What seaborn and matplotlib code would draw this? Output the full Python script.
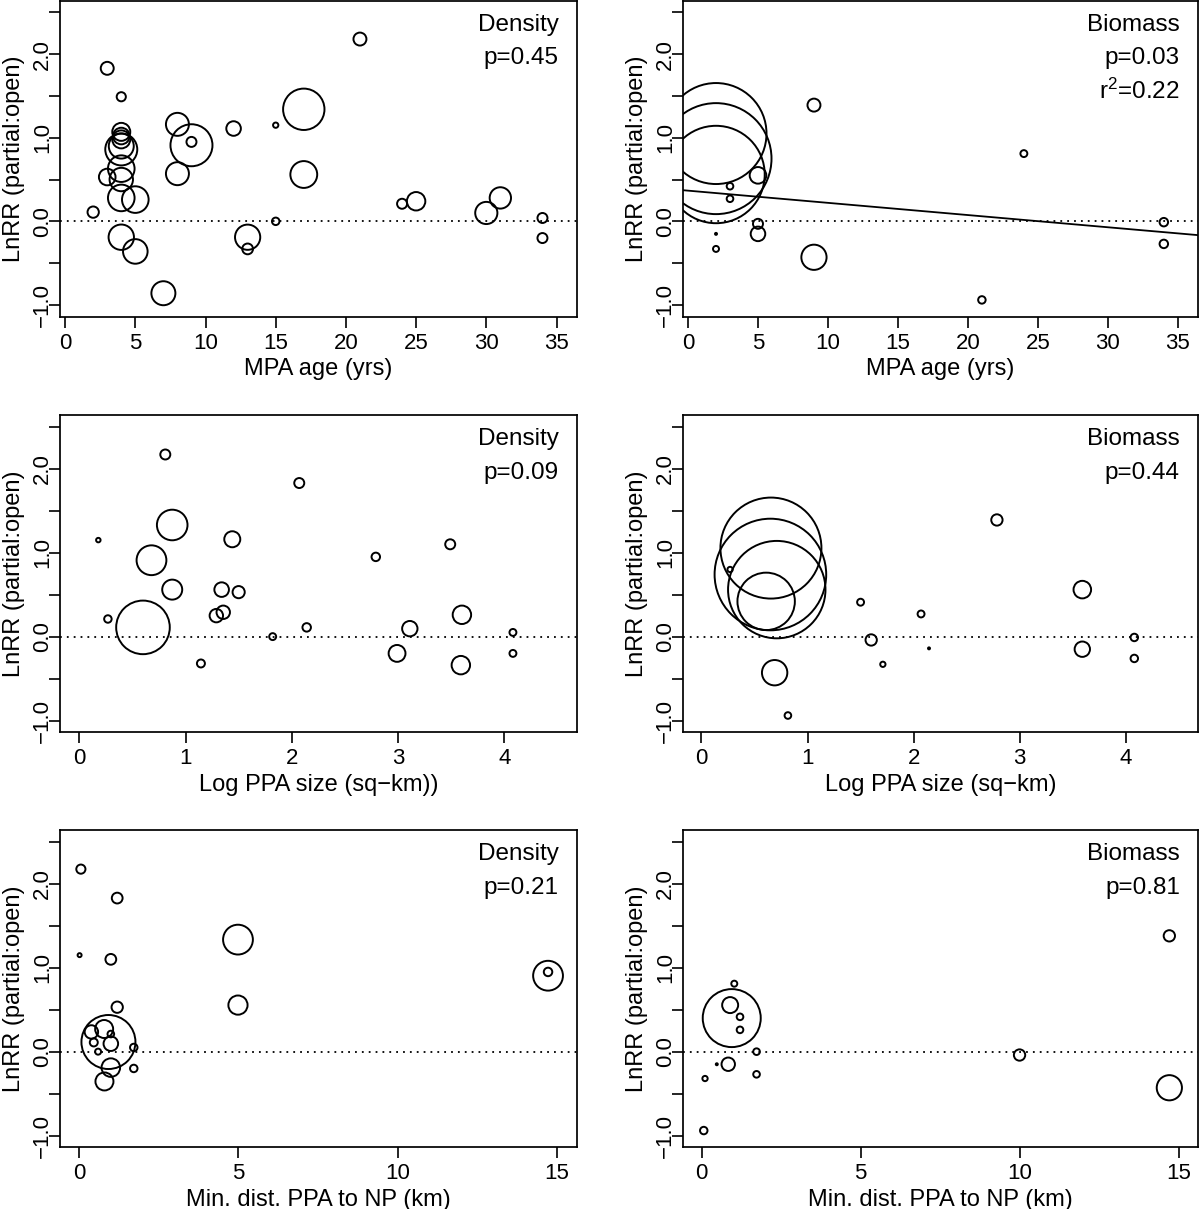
import numpy as np
import pandas as pd
import matplotlib
matplotlib.use("Agg")
import matplotlib.pyplot as plt
import seaborn as sns

#%% data  (LnRR partial:open, bubble weight)
# density ~ MPA age
dens_age_x = [3, 4, 21, 2, 3, 4, 4, 4, 4, 4, 4, 4, 4, 4, 5, 5, 7, 8, 8, 9, 9,
              12, 15, 15, 13, 13, 17, 17, 24, 25, 30, 31, 34, 34]
dens_age_y = [1.83, 1.49, 2.18, 0.11, 0.53, 1.07, 1.02, 0.98, 0.86, 0.90, 0.63,
              0.50, 0.28, -0.19, 0.26, -0.36, -0.86, 1.16, 0.57, 0.91, 0.95,
              1.11, 1.15, 0.0, -0.19, -0.33, 1.34, 0.56, 0.21, 0.24, 0.10, 0.28,
              0.04, -0.20]
dens_age_w = [42, 21, 42, 32, 69, 81, 69, 81, 256, 156, 177, 137, 177, 161, 177,
              151, 144, 132, 132, 441, 25, 53, 7, 14, 159, 29, 428, 180, 25, 85,
              123, 114, 25, 25]

# biomass ~ MPA age
bio_age_x = [2, 2, 2, 5, 3, 3, 5, 5, 2, 2, 9, 9, 24, 21, 34, 34]
bio_age_y = [1.05, 0.75, 0.56, 0.55, 0.42, 0.27, -0.03, -0.15, -0.15, -0.33,
             1.39, -0.43, 0.81, -0.94, -0.01, -0.27]
bio_age_w = [2550, 3080, 2372, 69, 11, 11, 25, 53, 1, 9, 42, 159, 12, 14, 18, 18]
bio_age_fit = (0.367, -0.0146)   # intercept, slope

# density ~ log PPA size
dens_size_x = [0.18, 0.27, 0.60, 0.68, 0.81, 0.875, 0.875, 1.145, 1.29, 1.355,
               1.34, 1.50, 1.44, 1.82, 2.07, 2.14, 2.79, 2.99, 3.11, 3.49, 3.60,
               3.59, 4.08, 4.08]
dens_size_y = [1.15, 0.21, 0.11, 0.91, 2.17, 1.33, 0.56, -0.32, 0.25, 0.29, 0.56,
               0.53, 1.16, 0.0, 1.83, 0.11, 0.95, -0.20, 0.095, 1.10, 0.26, -0.34,
               0.05, -0.20]
dens_size_w = [5, 14, 718, 222, 25, 234, 100, 16, 45, 45, 53, 37, 64, 12, 25, 18,
               18, 71, 59, 25, 85, 85, 12, 12]

# biomass ~ log PPA size
bio_size_x = [0.655, 0.65, 0.71, 0.61, 0.27, 0.69, 0.815, 1.50, 1.60, 1.71, 2.07,
              2.145, 2.785, 3.59, 3.59, 4.08, 4.08]
bio_size_y = [1.055, 0.74, 0.56, 0.42, 0.80, -0.43, -0.94, 0.41, -0.04, -0.33,
              0.27, -0.14, 1.39, 0.56, -0.15, -0.01, -0.26]
bio_size_w = [2550, 3114, 2372, 824, 7, 161, 11, 12, 32, 7, 12, 1, 32, 77, 59, 14,
              14]

# density ~ min. distance to NP
dens_dist_x = [0.06, 0.02, 1.2, 1.0, 1.2, 0.925, 0.39, 0.79, 1.0, 0.465, 1.0, 0.6,
               1.72, 1.72, 1.0, 0.8, 4.99, 4.99, 14.72, 14.72]
dens_dist_y = [2.175, 1.15, 1.83, 1.10, 0.53, 0.115, 0.235, 0.27, 0.21, 0.11,
               0.095, 0.0, 0.05, -0.20, -0.19, -0.355, 1.335, 0.555, 0.905, 0.95]
dens_dist_w = [21, 4, 29, 29, 32, 729, 45, 81, 11, 16, 53, 9, 14, 14, 86, 81, 222,
               92, 222, 18]

# biomass ~ min. distance to NP
bio_dist_x = [0.95, 0.90, 1.03, 1.21, 1.21, 1.73, 1.73, 0.84, 0.48, 0.11, 0.07,
              10.0, 14.71, 14.71]
bio_dist_y = [0.40, 0.555, 0.81, 0.415, 0.26, 0.0, -0.27, -0.15, -0.15, -0.32,
              -0.94, -0.04, 1.38, -0.43]
bio_dist_w = [841, 64, 9, 11, 11, 11, 11, 45, 1, 7, 14, 32, 32, 159]

ytick_vals = [-1.0, -0.5, 0.0, 0.5, 1.0, 1.5, 2.0, 2.5]
ytick_labs = ["\u22121.0", "", "0.0", "", "1.0", "", "2.0", ""]
ylab = "LnRR (partial:open)"

#%% style
sns.set_style("ticks", {"axes.edgecolor": "black", "xtick.color": "black",
                        "ytick.color": "black", "text.color": "black",
                        "axes.labelcolor": "black"})
plt.rcParams["font.family"] = ["Liberation Sans", "DejaVu Sans"]
plt.rcParams["mathtext.fontset"] = "custom"
plt.rcParams["mathtext.rm"] = "Liberation Sans"
plt.rcParams["mathtext.default"] = "regular"

DPI = 100
W_MAX = 3200
S_MAX = W_MAX * (2 * 72 / DPI) ** 2   # weight -> marker area (pt^2)

fig = plt.figure(figsize=(12, 12.09), dpi=DPI)

col_left = [0.0504, 0.5695]
col_w = [0.4302, 0.4288]
row_bot = [0.7381, 0.3943, 0.0510]
row_h = [0.2614, 0.2624, 0.2624]

panels = [
    (dens_age_x, dens_age_y, dens_age_w, "MPA age (yrs)", (-0.33, 36.44),
     range(0, 36, 5), ["Density", "p=0.45"], None),
    (bio_age_x, bio_age_y, bio_age_w, "MPA age (yrs)", (-0.33, 36.44),
     range(0, 36, 5), ["Biomass", "p=0.03", "r$^{2}$=0.22"], bio_age_fit),
    (dens_size_x, dens_size_y, dens_size_w, "Log PPA size (sq\u2212km))",
     (-0.176, 4.68), range(0, 5), ["Density", "p=0.09"], None),
    (bio_size_x, bio_size_y, bio_size_w, "Log PPA size (sq\u2212km)",
     (-0.17, 4.68), range(0, 5), ["Biomass", "p=0.44"], None),
    (dens_dist_x, dens_dist_y, dens_dist_w, "Min. dist. PPA to NP (km)",
     (-0.58, 15.62), range(0, 16, 5), ["Density", "p=0.21"], None),
    (bio_dist_x, bio_dist_y, bio_dist_w, "Min. dist. PPA to NP (km)",
     (-0.57, 15.61), range(0, 16, 5), ["Biomass", "p=0.81"], None),
]

for i, (px, py, pw, xlab, xlim, xt, notes, fit) in enumerate(panels):
    r, c = divmod(i, 2)
    ax = fig.add_axes([col_left[c], row_bot[r], col_w[c], row_h[r]])
    df = pd.DataFrame({"x": px, "y": py, "w": pw})

    ax.axhline(0, color="black", lw=1.3, ls=(0, (1, 2.8)), zorder=1)
    if fit is not None:
        ax.axline((0, fit[0]), slope=fit[1], color="black", lw=1.3, zorder=2)

    sns.scatterplot(data=df, x="x", y="y", size="w", sizes=(0, S_MAX),
                    size_norm=(0, W_MAX), facecolor="none", edgecolor="black",
                    linewidth=1.4, legend=False, ax=ax, zorder=3)

    ax.set_xlim(*xlim)
    ax.set_ylim(-1.14, 2.64)
    ax.set_xticks(list(xt))
    ax.set_xticklabels([str(v) for v in xt])
    ax.set_yticks(ytick_vals)
    ax.set_yticklabels(ytick_labs)
    ax.tick_params(axis="both", length=8, width=1.2, labelsize=16)
    ax.tick_params(axis="x", pad=3.5)
    ax.tick_params(axis="y", pad=-2.5, labelrotation=90)
    for lab in ax.get_yticklabels():
        lab.set_va("center")
    for sp in ax.spines.values():
        sp.set_linewidth(1.25)
        sp.set_visible(True)

    ax.set_xlabel(xlab, fontsize=17)
    ax.set_ylabel(ylab, fontsize=17)
    ax.xaxis.set_label_coords(0.5, -0.131)
    ax.yaxis.set_label_coords(-0.0688, 0.5)

    for k, t in enumerate(notes):
        ax.text(0.965, 0.924 - 0.106 * k, t, transform=ax.transAxes,
                ha="right", va="center", fontsize=17.5)

fig.savefig("out.png", dpi=DPI)
